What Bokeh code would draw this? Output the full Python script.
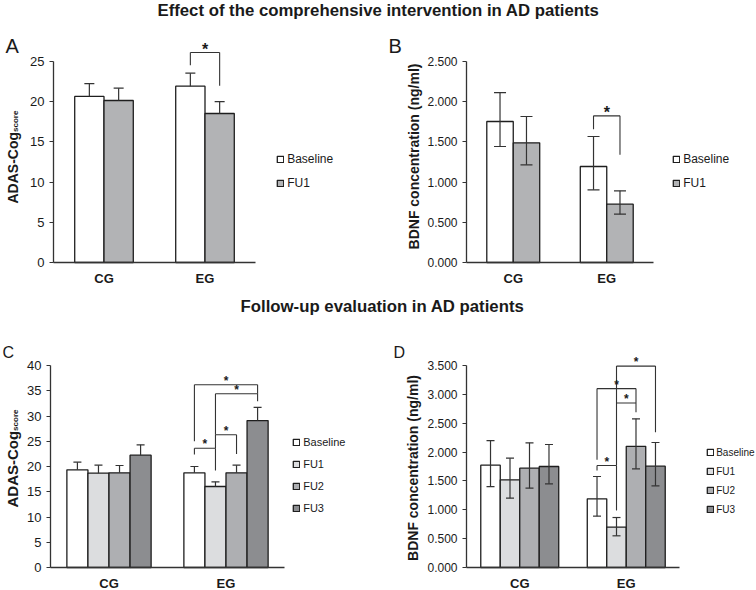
import math
from bokeh.plotting import figure
from bokeh.models import (ColumnDataSource, Range1d, FixedTicker,
                          NumeralTickFormatter, Label, Legend, LegendItem)
from bokeh.transform import dodge
from bokeh.layouts import column, row
from bokeh.embed import file_html
from bokeh.resources import INLINE
from bokeh.core.properties import value

FONT = "Liberation Sans"

# ------------------------------------------------------------------ data
groups = ["CG", "EG"]

# Panel A: ADAS-Cog score, mean and upper end of error bar
a_series = ["Baseline", "FU1"]
a_baseline = [20.65, 21.93]
a_baseline_hi = [22.26, 23.55]
a_fu1 = [20.15, 18.53]
a_fu1_hi = [21.68, 20.02]
a_ticks = [0, 5, 10, 15, 20, 25]

# Panel B: BDNF concentration (ng/ml), mean with lower/upper error
b_series = ["Baseline", "FU1"]
b_baseline = [1.754, 1.194]
b_baseline_lo = [1.443, 0.904]
b_baseline_hi = [2.114, 1.567]
b_fu1 = [1.488, 0.726]
b_fu1_lo = [1.215, 0.601]
b_fu1_hi = [1.816, 0.891]
b_ticks = [0.0, 0.5, 1.0, 1.5, 2.0, 2.5]

# Panel C: ADAS-Cog score follow-up
c_series = ["Baseline", "FU1", "FU2", "FU3"]
c_baseline = [19.34, 18.75]
c_baseline_hi = [20.86, 20.00]
c_fu1 = [18.68, 16.04]
c_fu1_hi = [20.26, 16.96]
c_fu2 = [18.74, 18.75]
c_fu2_hi = [20.20, 20.26]
c_fu3 = [22.24, 29.10]
c_fu3_hi = [24.30, 31.70]
c_ticks = [0, 5, 10, 15, 20, 25, 30, 35, 40]

# Panel D: BDNF follow-up
d_series = ["Baseline", "FU1", "FU2", "FU3"]
d_baseline = [1.773, 1.190]
d_baseline_lo = [1.403, 0.890]
d_baseline_hi = [2.200, 1.577]
d_fu1 = [1.519, 0.700]
d_fu1_lo = [1.201, 0.549]
d_fu1_hi = [1.894, 0.866]
d_fu2 = [1.721, 2.100]
d_fu2_lo = [1.374, 1.710]
d_fu2_hi = [2.160, 2.576]
d_fu3 = [1.750, 1.756]
d_fu3_lo = [1.450, 1.415]
d_fu3_hi = [2.131, 2.166]
d_ticks = [0.0, 0.5, 1.0, 1.5, 2.0, 2.5, 3.0, 3.5]

# significance brackets: (group, left bar, right bar, top, left leg end, right leg end)
a_brackets = [("EG", "Baseline", "FU1", 26.12, 24.54, 21.97)]
b_brackets = [("EG", "Baseline", "FU1", 1.824, 1.658, 1.339)]
c_brackets = [("EG", "Baseline", "FU1", 23.6, 22.4, 19.2),
              ("EG", "FU1", "FU2", 26.3, 23.6, 22.5),
              ("EG", "FU1", "FU3", 34.4, 26.3, 32.9),
              ("EG", "Baseline", "FU3", 36.2, 25.0, 34.4)]
d_brackets = [("EG", "Baseline", "FU1", 1.767, 1.68, 0.988),
              ("EG", "FU1", "FU2", 2.85, 1.767, 2.69),
              ("EG", "Baseline", "FU2", 3.10, 1.866, 2.85),
              ("EG", "FU1", "FU3", 3.49, 2.85, 2.345)]

title_top = "Effect of the comprehensive intervention in AD patients"
title_bottom = "Follow-up evaluation in AD patients"

# ------------------------------------------------------------------ style
EDGE = "#1e1e1e"
ERR = "#333333"
AXC = "#333333"
TXT = "#1a1a1a"
col2 = ["#ffffff", "#b2b3b5"]
col4 = ["#ffffff", "#dcdddf", "#aeafb2", "#8c8d90"]

T1_H, R1_H, T2_H, R2_H = 20, 276, 20, 274
R1_Y = T1_H
T2_Y = R1_Y + R1_H
R2_Y = T2_Y + T2_H

group_x = [i + 0.5 for i in range(len(groups))]
GEOM = {}


def panel(fig_x, fig_y, fig_w, fig_h, fl, fb, ux, uy, y_top, ticks, fmt,
          tick_size, xlab_standoff):
    x_start = (fig_x - fl) / ux
    x_end = (fig_x + fig_w - fl) / ux
    y_start = (fb - (fig_y + fig_h)) / uy
    y_end = (fb - fig_y) / uy
    p = figure(width=fig_w, height=fig_h, x_range=Range1d(x_start, x_end),
               y_range=Range1d(y_start, y_end), output_backend="svg",
               toolbar_location=None, min_border=0)
    p.outline_line_color = None
    p.xgrid.visible = False
    p.ygrid.visible = False
    p.background_fill_color = "white"
    p.border_fill_color = "white"
    xa = p.xaxis[0]
    ya = p.yaxis[0]
    xa.fixed_location = 0
    xa.bounds = (0, len(groups))
    xa.ticker = FixedTicker(ticks=group_x)
    xa.major_label_overrides = {gx: g for gx, g in zip(group_x, groups)}
    xa.major_tick_line_color = None
    xa.minor_tick_line_color = None
    xa.major_tick_out = 0
    xa.major_tick_in = 0
    xa.axis_line_color = AXC
    xa.axis_line_width = 1.3
    xa.major_label_text_font = FONT
    xa.major_label_text_font_style = "bold"
    xa.major_label_text_font_size = "13px"
    xa.major_label_text_color = TXT
    xa.major_label_standoff = xlab_standoff
    ya.fixed_location = 0
    ya.ticker = FixedTicker(ticks=ticks)
    ya.bounds = (0, y_top)
    ya.formatter = NumeralTickFormatter(format=fmt)
    ya.major_tick_out = 4
    ya.major_tick_in = 0
    ya.major_tick_line_color = AXC
    ya.major_tick_line_width = 1.2
    ya.minor_tick_line_color = None
    ya.axis_line_color = AXC
    ya.axis_line_width = 1.3
    ya.major_label_standoff = 5
    ya.major_label_text_font = FONT
    ya.major_label_text_font_size = tick_size
    ya.major_label_text_color = TXT
    GEOM[p.id] = (fig_x, fig_y, fig_w, fig_h, fl, fb, ux, uy)
    return p


def bars(p, names, means, los, his, offsets, width, colors, cap, two_sided):
    out = []
    for name, m, lo, hi, off, col in zip(names, means, los, his, offsets, colors):
        src = ColumnDataSource(dict(gx=group_x, group=groups, mean=m, lo=lo, hi=hi))
        x = dodge("gx", off)
        r = p.vbar(x=x, top="mean", width=width, source=src, fill_color=col,
                   line_color=EDGE, line_width=1.3)
        p.segment(x0=x, y0="lo", x1=x, y1="hi", source=src,
                  line_color=ERR, line_width=1.2)
        p.scatter(x=x, y="hi", marker="dash", size=cap, source=src,
                  line_color=ERR, line_width=1.2)
        if two_sided:
            p.scatter(x=x, y="lo", marker="dash", size=cap, source=src,
                      line_color=ERR, line_width=1.2)
        out.append((name, r))
    return out


def brackets(p, blist, offmap, star_size, star_dy):
    x0s, y0s, x1s, y1s, sx, sy = [], [], [], [], [], []
    for grp, s1, s2, top, lb, rb in blist:
        base = group_x[groups.index(grp)]
        xa = base + offmap[s1]
        xb = base + offmap[s2]
        x0s += [xa, xa, xb]
        y0s += [lb, top, top]
        x1s += [xa, xb, xb]
        y1s += [top, top, rb]
        sx.append((xa + xb) / 2)
        sy.append(top)
    p.segment(x0=x0s, y0=y0s, x1=x1s, y1=y1s, line_color=ERR, line_width=1.1)
    p.text(x=sx, y=sy, text=["*"] * len(sx), text_font=value(FONT),
           text_font_size=f"{star_size}px", text_font_style="bold",
           text_align="center", text_baseline="alphabetic", y_offset=star_dy,
           text_color=TXT)


def label(p, px, py, text, size, bold=False, angle=0.0, align="left",
          baseline="alphabetic"):
    fig_x, fig_y, fig_w, fig_h, fl, fb, ux, uy = GEOM[p.id]
    p.add_layout(Label(x=(px - fl) / ux, y=(fb - py) / uy, text=text, angle=angle,
                       text_font=FONT, text_font_size=f"{size}px",
                       text_font_style="bold" if bold else "normal",
                       text_align=align, text_baseline=baseline,
                       text_color=TXT))


def legend(p, items, sq_left, first_center, pitch, font_px, H, standoff=3):
    fig_x, fig_y, fig_w, fig_h, fl, fb, ux, uy = GEOM[p.id]
    n = len(items)
    spacing = pitch - H
    height = n * H + (n - 1) * spacing
    top = first_center - H / 2.0
    loc = (sq_left - 0.8 - fig_x, (fig_y + fig_h) - (top + height))
    leg = Legend(items=[LegendItem(label=nm, renderers=[r]) for nm, r in items],
                 location=loc, orientation="vertical", border_line_color=None,
                 background_fill_alpha=0, padding=0, margin=0,
                 spacing=int(round(spacing)), glyph_width=8, glyph_height=8,
                 label_height=H, label_standoff=standoff, label_text_font=FONT,
                 label_text_font_size=f"{font_px}px", label_text_color=TXT)
    p.add_layout(leg)


def title_fig(text, h, cx):
    t = figure(width=756, height=h, x_range=Range1d(0, 756), y_range=Range1d(0, 1),
               output_backend="svg", toolbar_location=None, min_border=0,
               x_axis_location=None, y_axis_location=None)
    t.outline_line_color = None
    t.grid.visible = False
    t.background_fill_color = "white"
    t.border_fill_color = "white"
    t.text(x=[cx], y=[0.5], text=[text], text_font=value(FONT),
           text_font_size="16.75px", text_font_style="bold", text_align="center",
           text_baseline="middle", text_color=TXT)
    return t


# ------------------------------------------------------------------ panel A
pa = panel(0, R1_Y, 378, R1_H, 53, 262, 101.0, 201 / 25, 25, a_ticks, "0", "13px", 8)
a_off = {"Baseline": -0.145, "FU1": 0.145}
ra = bars(pa, a_series, [a_baseline, a_fu1], [a_baseline, a_fu1],
          [a_baseline_hi, a_fu1_hi], [a_off[s] for s in a_series], 0.29, col2, 10, False)
brackets(pa, a_brackets, a_off, 16, -3)
legend(pa, ra, 277, 159, 24, 12, 14)
label(pa, 5, 45, "A", 20)
label(pa, 12, 203, "ADAS-Cog", 14, bold=True, angle=math.pi / 2)
label(pa, 14.5, 131.5, "score", 8, bold=True, angle=math.pi / 2)

# ------------------------------------------------------------------ panel B
pb = panel(378, R1_Y, 378, R1_H, 466, 262, 93.5, 201 / 2.5, 2.5, b_ticks, "0.000", "12px", 8)
b_off = {"Baseline": -0.1415, "FU1": 0.1415}
rb = bars(pb, b_series, [b_baseline, b_fu1], [b_baseline_lo, b_fu1_lo],
          [b_baseline_hi, b_fu1_hi], [b_off[s] for s in b_series], 0.283, col2, 12, True)
brackets(pb, b_brackets, b_off, 16, -3)
legend(pb, rb, 673, 159, 24, 12, 14)
label(pb, 388, 45, "B", 20)
label(pb, 413.5, 156, "BDNF concentration (ng/ml)", 14, bold=True,
      angle=math.pi / 2, align="center")

# ------------------------------------------------------------------ panel C
pc = panel(0, R2_Y, 378, R2_H, 50, 567, 117.0, 202 / 40, 40, c_ticks, "0", "13px", 8)
c_off = {"Baseline": -0.27, "FU1": -0.09, "FU2": 0.09, "FU3": 0.27}
rc = bars(pc, c_series, [c_baseline, c_fu1, c_fu2, c_fu3],
          [c_baseline, c_fu1, c_fu2, c_fu3],
          [c_baseline_hi, c_fu1_hi, c_fu2_hi, c_fu3_hi],
          [c_off[s] for s in c_series], 0.18, col4, 8, False)
brackets(pc, c_brackets, c_off, 12, -4)
legend(pc, rc, 293, 443, 21.7, 11, 13)
label(pc, 2, 352, "C", 16)
label(pc, 12, 507, "ADAS-Cog", 15, bold=True, angle=math.pi / 2)
label(pc, 14.5, 430.4, "score", 8, bold=True, angle=math.pi / 2)

# ------------------------------------------------------------------ panel D
pd_ = panel(378, R2_Y, 378, R2_H, 466, 567, 106.5, 202 / 3.5, 3.5, d_ticks, "0.000", "12px", 8)
d_off = {"Baseline": -0.2745, "FU1": -0.0915, "FU2": 0.0915, "FU3": 0.2745}
rd = bars(pd_, d_series, [d_baseline, d_fu1, d_fu2, d_fu3],
          [d_baseline_lo, d_fu1_lo, d_fu2_lo, d_fu3_lo],
          [d_baseline_hi, d_fu1_hi, d_fu2_hi, d_fu3_hi],
          [d_off[s] for s in d_series], 0.183, col4, 8, True)
brackets(pd_, d_brackets, d_off, 12, -4)
legend(pd_, rd, 707, 453, 18.7, 10, 13, standoff=2)
label(pd_, 393, 352, "D", 16)
label(pd_, 412, 467.5, "BDNF concentration (ng/ml)", 14, bold=True,
      angle=math.pi / 2, align="center")

t1 = title_fig(title_top, T1_H, 378)
t2 = title_fig(title_bottom, T2_H, 382)

layout = column(t1, row(pa, pb), t2, row(pc, pd_))

open("out.html", "w").write(file_html(layout, INLINE))
